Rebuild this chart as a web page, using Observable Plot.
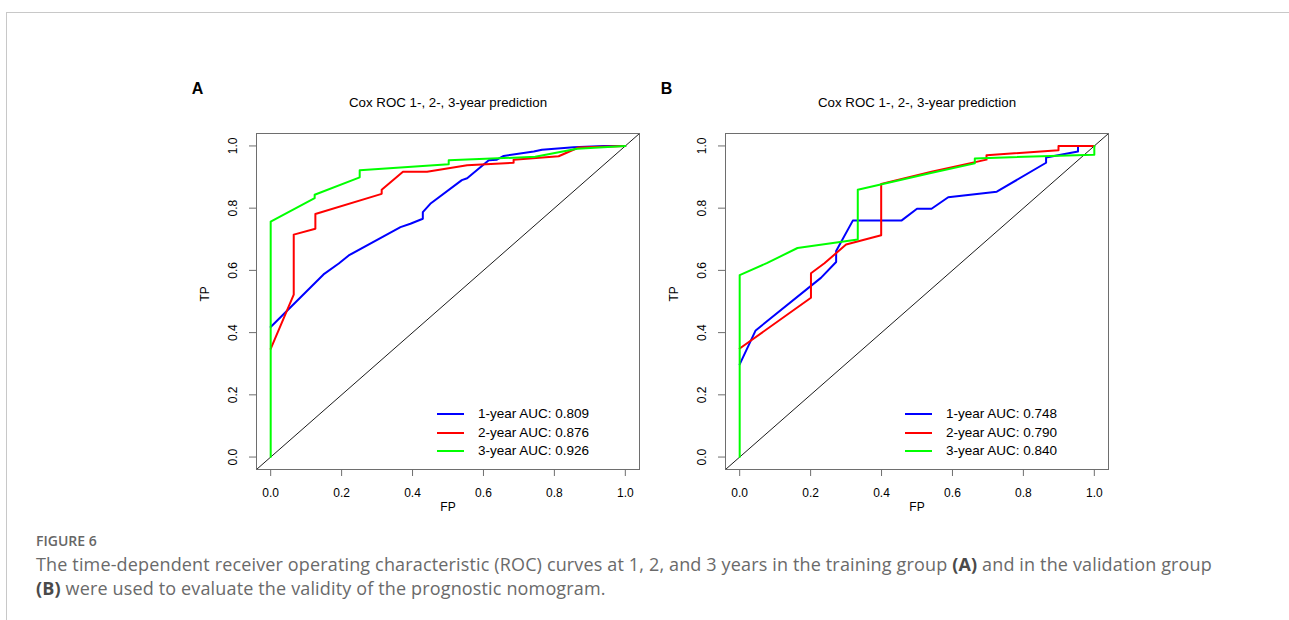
<!DOCTYPE html>
<html><head><meta charset="utf-8">
<script src="https://cdn.jsdelivr.net/npm/d3@7"></script>
<script src="https://cdn.jsdelivr.net/npm/@observablehq/plot@0.6"></script>
<style>
body{margin:0;background:#fff;width:1289px;height:620px;position:relative;overflow:hidden;font-family:"Liberation Sans",Arial,sans-serif}
#frame{position:absolute;left:6px;top:12px;width:1300px;height:700px;border-top:1px solid #c8c8c8;border-left:1px solid #c8c8c8}
.panel{position:absolute;top:60px}
.legend{position:absolute;font-size:13.5px;color:#000}
.legend .key{position:absolute;left:0;width:27px;height:0;border-top:2px solid}
.legend .lab{position:absolute;white-space:nowrap;transform:translateY(-50%);line-height:1}
#caption{position:absolute;left:36px;top:532px;font-family:"Open Sans",sans-serif;color:#6a6a6a}
#caption .fig{font-size:14px;font-weight:600;color:#666;line-height:18px;margin-bottom:2px}
#caption .txt{font-size:18px;letter-spacing:0.15px;line-height:24px;width:1200px}
#caption b{font-weight:700;color:#4a4a4a}
</style></head>
<body>
<div id="frame"></div>
<div id="panelA" class="panel" style="left:180px"></div>
<div id="panelB" class="panel" style="left:649px"></div>
<div id="legendA" class="legend" style="left:437px;top:414px"></div>
<div id="legendB" class="legend" style="left:905px;top:414px"></div>
<div id="caption">
  <div class="fig">FIGURE 6</div>
  <div class="txt">The time-dependent receiver operating characteristic (ROC) curves at 1, 2, and 3 years in the training group <b>(A)</b> and in the validation group <b>(B)</b> were used to evaluate the validity of the prognostic nomogram.</div>
</div>
<script>
// ---- data (FP, TP) ----
const axisRange = [-0.04, 1.04];
const tickValues = [0, 0.2, 0.4, 0.6, 0.8, 1.0];
const seriesNames = ["1-year", "2-year", "3-year"];
const seriesColors = ["#0000ff", "#ff0000", "#00ff00"];
const plotTitle = "Cox ROC 1-, 2-, 3-year prediction";

// Panel A: training group
const trainOneYear = [[0,0.418],[0.149,0.587],[0.192,0.622],[0.220,0.648],[0.366,0.739],[0.394,0.750],[0.429,0.766],[0.429,0.787],[0.450,0.814],[0.539,0.890],[0.554,0.896],[0.615,0.954],[0.638,0.956],[0.657,0.968],[0.742,0.982],[0.765,0.988],[0.854,0.996],[0.939,1.0],[1.0,1.0]];
const trainTwoYear = [[0,0.348],[0.065,0.522],[0.065,0.715],[0.126,0.734],[0.126,0.781],[0.313,0.846],[0.313,0.859],[0.373,0.917],[0.441,0.917],[0.554,0.938],[0.685,0.946],[0.685,0.956],[0.812,0.967],[0.868,0.995],[1.0,1.0]];
const trainThreeYear = [[0,0],[0,0.757],[0.124,0.832],[0.124,0.843],[0.251,0.899],[0.251,0.922],[0.502,0.941],[0.502,0.954],[0.746,0.965],[0.864,0.991],[1.0,1.0]];
const trainAUC = ["0.809", "0.876", "0.926"];

// Panel B: validation group
const validOneYear = [[0,0.298],[0.045,0.407],[0.229,0.576],[0.272,0.627],[0.272,0.662],[0.319,0.760],[0.456,0.760],[0.500,0.798],[0.541,0.798],[0.588,0.835],[0.725,0.853],[0.864,0.946],[0.864,0.963],[0.954,0.982],[0.954,1.0],[1.0,1.0]];
const validTwoYear = [[0,0.349],[0.201,0.512],[0.201,0.591],[0.239,0.623],[0.300,0.683],[0.399,0.713],[0.399,0.878],[0.541,0.917],[0.696,0.956],[0.696,0.970],[0.899,0.986],[0.899,1.0],[1.0,1.0]];
const validThreeYear = [[0,0],[0,0.585],[0.078,0.624],[0.163,0.672],[0.333,0.699],[0.333,0.859],[0.536,0.912],[0.663,0.944],[0.663,0.960],[0.998,0.972],[1.0,0.972],[1.0,1.0]];
const validAUC = ["0.748", "0.790", "0.840"];

const fmt = d3.format(".1f");

function panel(letter, curves) {
  const diag = axisRange.map(v => ({fp: v, tp: v}));
  return Plot.plot({
    width: 470, height: 460,
    marginLeft: 76, marginRight: 11, marginTop: 73, marginBottom: 51,
    style: {fontFamily: '"Liberation Sans", Arial, sans-serif', fontSize: "12px", color: "#000", background: "transparent", overflow: "visible"},
    x: {domain: axisRange},
    y: {domain: axisRange},
    marks: [
      Plot.line(diag, {x: "fp", y: "tp", stroke: "#000", strokeWidth: 0.9}),
      ...curves.map((c, i) => Plot.line(c, {x: d => d[0], y: d => d[1], stroke: seriesColors[i], strokeWidth: 2})),
      Plot.frame({stroke: "#6e6e6e", strokeWidth: 1}),
      Plot.axisX({ticks: tickValues, tickFormat: fmt, tickSize: 7, tickPadding: 12, label: null, stroke: "#6e6e6e"}),
      Plot.axisY({ticks: tickValues, tickFormat: fmt, tickSize: 7, tickPadding: 13, tickRotate: -90, textAnchor: "middle", lineAnchor: "bottom", label: null, stroke: "#6e6e6e"}),
      Plot.text(["FP"], {frameAnchor: "bottom", dy: 38, lineAnchor: "middle", fontSize: 12}),
      Plot.text(["TP"], {frameAnchor: "left", dx: -51, rotate: -90, fontSize: 12}),
      Plot.text([plotTitle], {frameAnchor: "top", dy: -31, lineAnchor: "middle", fontSize: 13.3}),
      Plot.text([letter], {frameAnchor: "top-left", dx: -59, dy: -45, lineAnchor: "middle", fontSize: 16, fontWeight: "bold", textAnchor: "middle"})
    ]
  });
}

function legend(el, auc) {
  seriesNames.forEach((n, i) => {
    const y = i * 18.6;
    const k = document.createElement("div");
    k.className = "key";
    k.style.top = (y - 1) + "px";
    k.style.borderColor = seriesColors[i];
    el.appendChild(k);
    const t = document.createElement("div");
    t.className = "lab";
    t.style.top = y + "px";
    t.style.left = "41px";
    t.textContent = `${n} AUC: ${auc[i]}`;
    el.appendChild(t);
  });
}

document.getElementById("panelA").appendChild(panel("A", [trainOneYear, trainTwoYear, trainThreeYear]));
document.getElementById("panelB").appendChild(panel("B", [validOneYear, validTwoYear, validThreeYear]));
legend(document.getElementById("legendA"), trainAUC);
legend(document.getElementById("legendB"), validAUC);
</script>
</body></html>
